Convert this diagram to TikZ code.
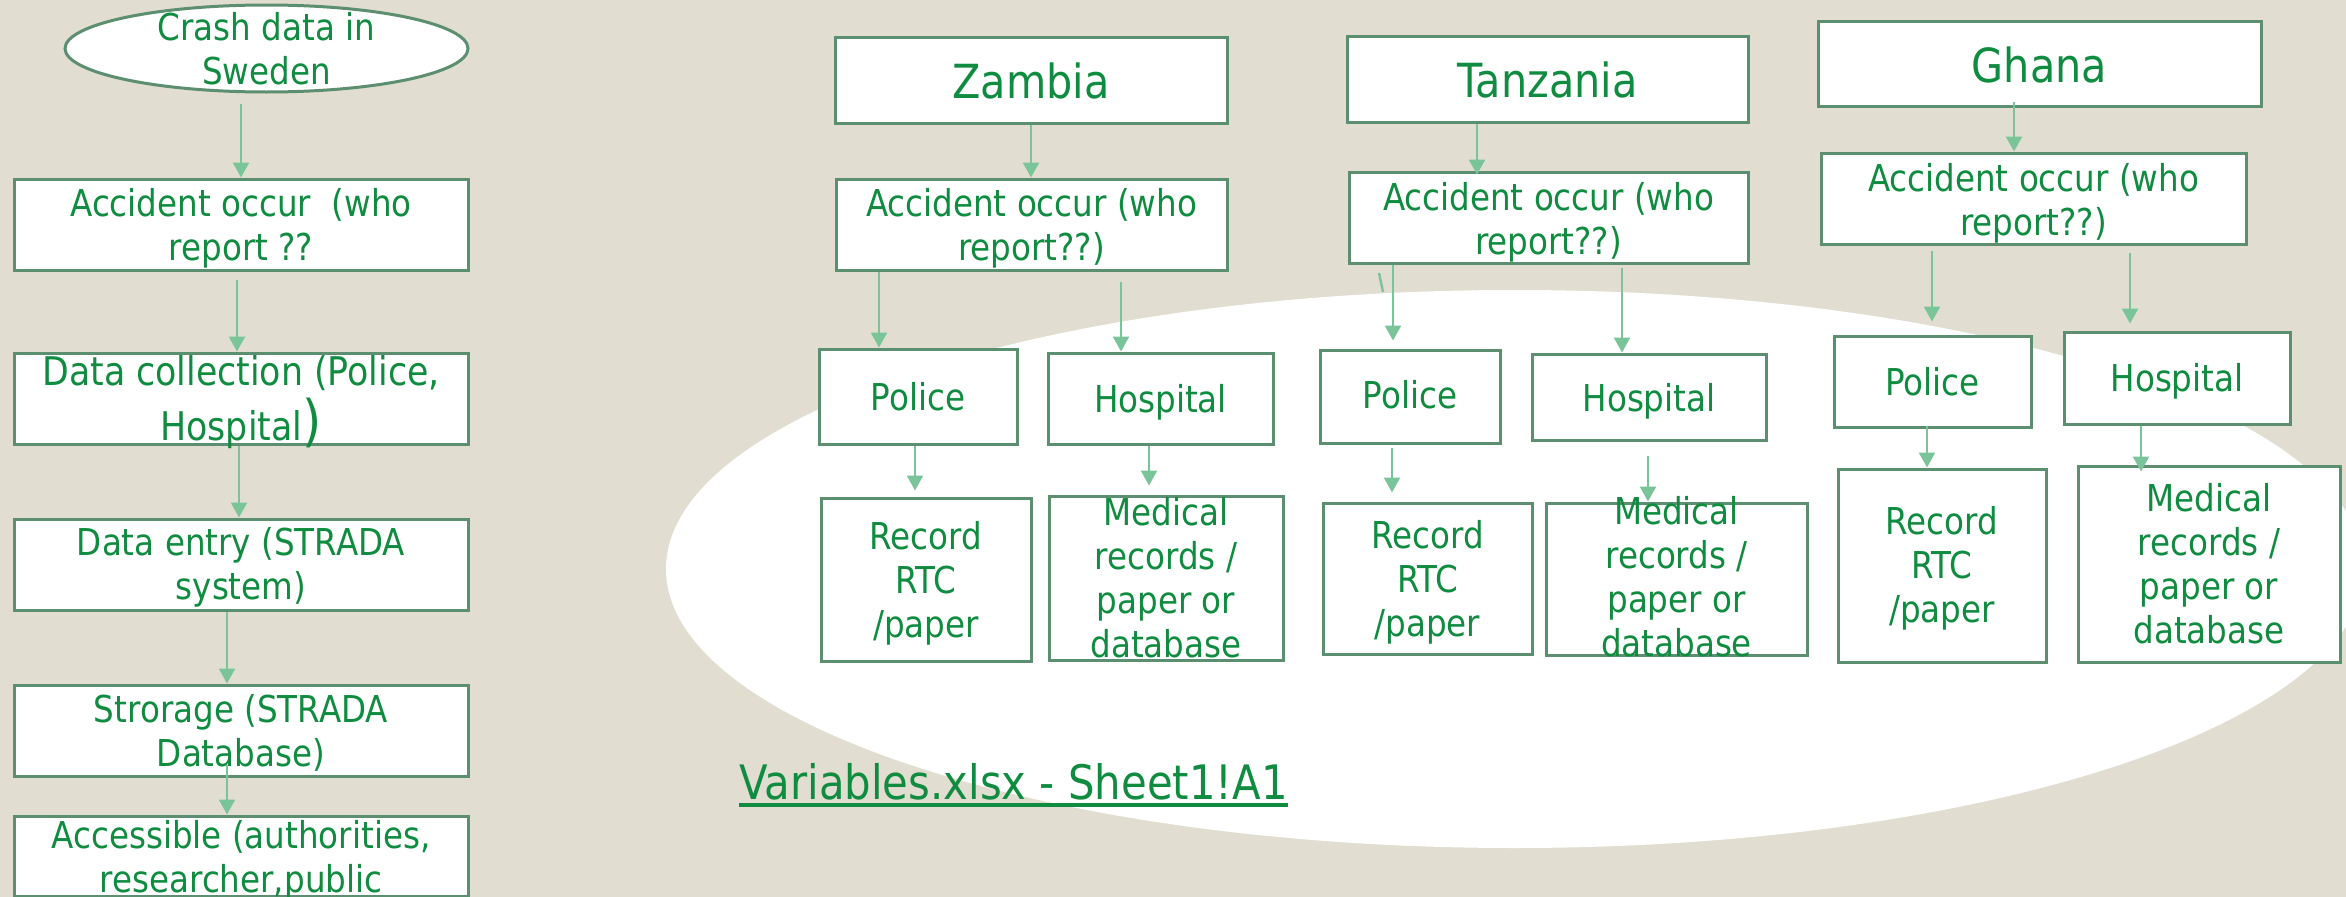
\documentclass[tikz,border=0pt]{standalone}
\usepackage{fontspec}
\setmainfont{DejaVu Sans}[FakeStretch=0.88]
\usetikzlibrary{shapes.geometric,arrows.meta}
\definecolor{bgc}{RGB}{226,221,209}
\definecolor{textc}{RGB}{16,140,64}
\definecolor{edgec}{RGB}{92,142,112}
\definecolor{arrowc}{RGB}{122,196,154}

\begin{document}
\begin{tikzpicture}[x=1pt,y=-1pt,
    box/.style={draw=edgec, fill=white, line width=3pt, inner sep=0pt},
    lbl/.style={text=textc, align=center, font=\fontsize{37}{44}\selectfont},
    big/.style={lbl, font=\fontsize{47}{56}\selectfont},
    arr/.style={draw=arrowc, line width=2.4pt, -{Triangle[width=16pt,length=15pt]}}]
  \fill[bgc] (0,0) rectangle (2346,897);
  \useasboundingbox (0,0) rectangle (2346,897);
  \clip (0,0) rectangle (2346,897);
  \fill[white] (1515,569) ellipse [x radius=849pt, y radius=279pt];

  % Sweden
  \node[box, ellipse, minimum width=403pt, minimum height=87pt,
    label={[lbl]center:{Crash data in\\Sweden}}] (ell) at (266.5,48.5) {};
  \node[box, minimum width=454pt, minimum height=91pt,
    label={[lbl,yshift=-4pt]center:{Accident occur~~(who\\report ??}}] (lacc) at (241,224.5) {};
  \node[box, minimum width=454pt, minimum height=91pt,
    label={[lbl,font=\fontsize{39.5}{44}\selectfont,yshift=-3.5pt]center:{Data collection (Police,\\[6pt]Hospital{\fontsize{56}{56}\selectfont)}}}] (lcol) at (241,398.5) {};
  \node[box, minimum width=454pt, minimum height=91pt,
    label={[lbl,yshift=-3pt]center:{Data entry (STRADA\\system)}}] (lent) at (241,564.5) {};
  \node[box, minimum width=454pt, minimum height=91pt,
    label={[lbl,yshift=-2pt]center:{Strorage (STRADA\\Database)}}] (lsto) at (241,730.5) {};
  \node[box, minimum width=454pt, minimum height=80pt,
    label={[lbl,yshift=-4pt]center:{Accessible (authorities,\\researcher,public}}] (lacs) at (241,856) {};

  % Zambia
  \node[box, minimum width=392pt, minimum height=86pt,
    label={[big,yshift=-1pt]center:Zambia}] (zam) at (1031,80) {};
  \node[box, minimum width=391pt, minimum height=91pt,
    label={[lbl,yshift=-4pt]center:{Accident occur (who\\report??)}}] (zacc) at (1031.5,224.5) {};
  \node[box, minimum width=198pt, minimum height=95pt,
    label={[lbl]center:Police}] (zpol) at (918,396.5) {};
  \node[box, minimum width=225pt, minimum height=91pt,
    label={[lbl,yshift=-3.5pt]center:Hospital}] (zhos) at (1160.5,398.5) {};
  \node[box, minimum width=210pt, minimum height=163pt,
    label={[lbl,yshift=-4pt]center:{Record\\RTC\\/paper}}] (zrec) at (926,579.5) {};
  \node[box, minimum width=234pt, minimum height=164pt,
    label={[lbl]center:{Medical\\records /\\paper or\\database}}] (zmed) at (1166,578) {};

  % Tanzania
  \node[box, minimum width=401pt, minimum height=86pt,
    label={[big,yshift=-1pt]center:Tanzania}] (tan) at (1547.5,79) {};
  \node[box, minimum width=399pt, minimum height=91pt,
    label={[lbl,yshift=-5pt]center:{Accident occur (who\\report??)}}] (tacc) at (1548.5,217.5) {};
  \node[box, minimum width=180pt, minimum height=93pt,
    label={[lbl,yshift=1.5pt]center:Police}] (tpol) at (1410,396.5) {};
  \node[box, minimum width=234pt, minimum height=86pt,
    label={[lbl,yshift=-4pt]center:Hospital}] (thos) at (1649,397) {};
  \node[box, minimum width=209pt, minimum height=151pt,
    label={[lbl,yshift=-4pt]center:{Record\\RTC\\/paper}}] (trec) at (1427.5,578.5) {};
  \node[box, minimum width=261pt, minimum height=152pt,
    label={[lbl,yshift=2pt]center:{Medical\\records /\\paper or\\database}}] (tmed) at (1676.5,579) {};

  % Ghana
  \node[box, minimum width=443pt, minimum height=85pt,
    label={[big,yshift=-1.5pt]center:Ghana}] (gha) at (2039.5,63.5) {};
  \node[box, minimum width=425pt, minimum height=91pt,
    label={[lbl,yshift=-4.5pt]center:{Accident occur (who\\report??)}}] (gacc) at (2033.5,198.5) {};
  \node[box, minimum width=197pt, minimum height=91pt,
    label={[lbl]center:Police}] (gpol) at (1932.5,381.5) {};
  \node[box, minimum width=226pt, minimum height=92pt,
    label={[lbl,yshift=-3pt]center:Hospital}] (ghos) at (2177,378) {};
  \node[box, minimum width=208pt, minimum height=193pt,
    label={[lbl,yshift=-3pt]center:{Record\\RTC\\/paper}}] (grec) at (1942,565.5) {};
  \node[box, minimum width=262pt, minimum height=196pt,
    label={[lbl]center:{Medical\\records /\\paper or\\database}}] (gmed) at (2209,564) {};

  \draw[arr, shorten <=10pt] (ell.south -| 241,0) -- (lacc.north -| 241,0);
  \draw[arr, shorten <=8pt] (lacc.south -| 237,0) -- (lcol.north -| 237,0);
  \draw[arr] (lcol.south -| 239,0) -- (lent.north -| 239,0);
  \draw[arr] (lent.south -| 227,0) -- (lsto.north -| 227,0);
  \draw[arr, shorten <=-13pt] (lsto.south -| 227,0) -- (lacs.north -| 227,0);

  \draw[arr] (zam.south -| 1031,0) -- (zacc.north -| 1031,0);
  \draw[arr] (zacc.south -| 879,0) -- (zpol.north -| 879,0);
  \draw[arr, shorten <=10pt] (zacc.south -| 1121,0) -- (zhos.north -| 1121,0);
  \draw[arr, shorten >=6pt] (zpol.south -| 915,0) -- (zrec.north -| 915,0);
  \draw[arr, shorten >=9pt] (zhos.south -| 1149,0) -- (zmed.north -| 1149,0);

  \draw[arr, shorten >=-4pt] (tan.south -| 1477,0) -- (tacc.north -| 1477,0);
  \draw[arr, shorten >=8pt] (tacc.south -| 1393,0) -- (tpol.north -| 1393,0);
  \draw[arr, shorten <=3pt] (tacc.south -| 1622,0) -- (thos.north -| 1622,0);
  \draw[arr, shorten <=3pt, shorten >=9pt] (tpol.south -| 1392,0) -- (trec.north -| 1392,0);
  \draw[arr, shorten <=14pt] (thos.south -| 1648,0) -- (tmed.north -| 1648,0);
  \draw[arrowc, line width=2.4pt] (1379,273) -- (1383,292);

  \draw[arr, shorten <=-6pt] (gha.south -| 2014,0) -- (gacc.north -| 2014,0);
  \draw[arr, shorten <=5pt, shorten >=13pt] (gacc.south -| 1932,0) -- (gpol.north -| 1932,0);
  \draw[arr, shorten <=7pt, shorten >=7pt] (gacc.south -| 2130,0) -- (ghos.north -| 2130,0);
  \draw[arr, shorten <=-3pt] (gpol.south -| 1927,0) -- (grec.north -| 1927,0);
  \draw[arr, shorten >=-7pt] (ghos.south -| 2141,0) -- (gmed.north -| 2141,0);

  \node[text=textc, inner sep=0pt, anchor=base, font=\fontsize{47.5}{56}\selectfont] (xls) at (1013.5,799) {Variables.xlsx - Sheet1!A1};
  \draw[textc, line width=4pt] ([yshift=-6pt]xls.base west) -- ([yshift=-6pt]xls.base east);
\end{tikzpicture}
\end{document}
